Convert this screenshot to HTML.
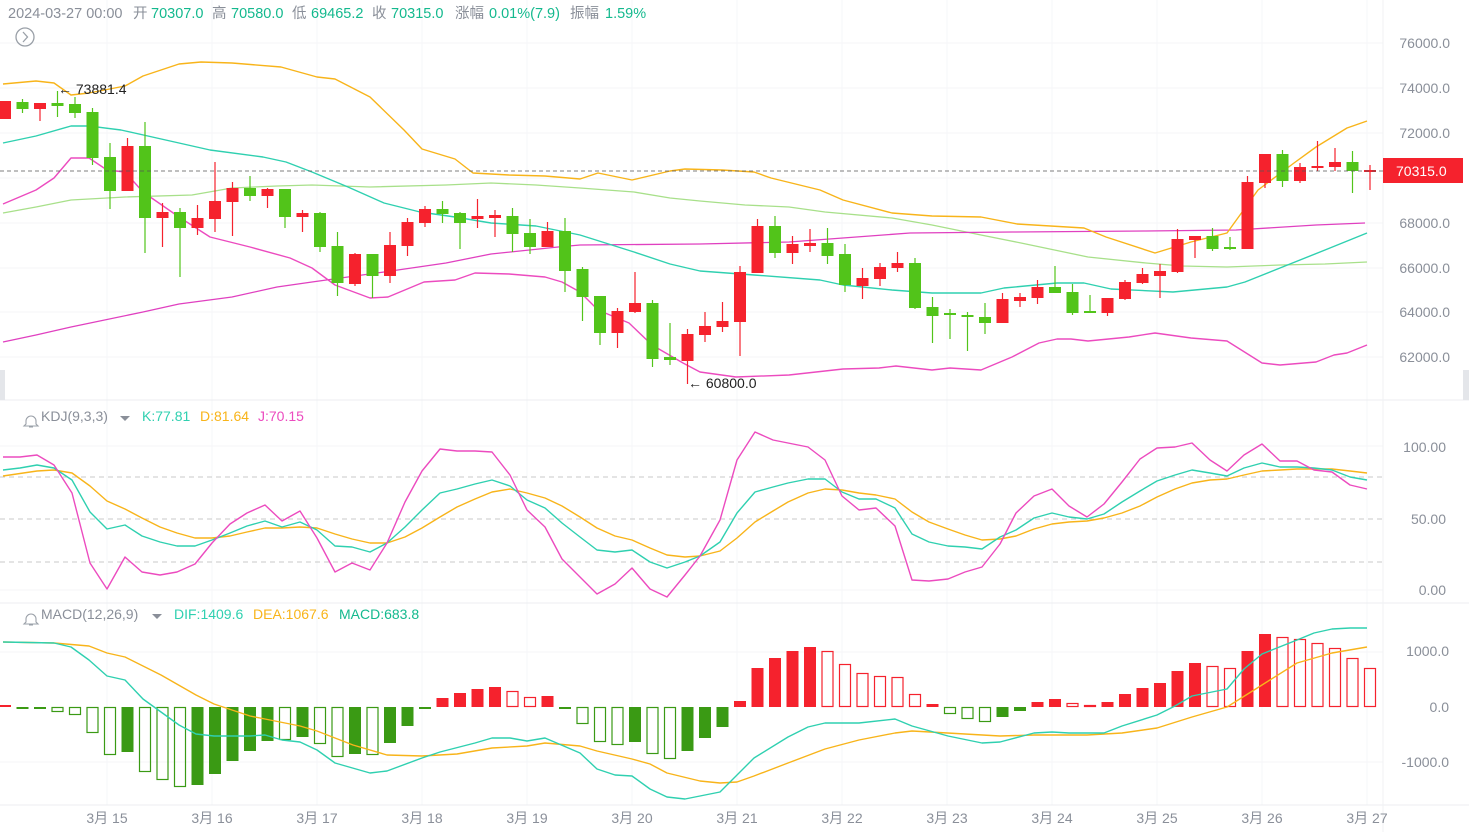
<!DOCTYPE html>
<html><head><meta charset="utf-8"><style>
html,body{margin:0;padding:0;background:#fff;width:1469px;height:832px;overflow:hidden}
svg{display:block}
text{font-family:"Liberation Sans","Noto Sans CJK SC",sans-serif}
</style></head><body>
<svg id="s" width="1469" height="832" xmlns="http://www.w3.org/2000/svg">
<rect width="1469" height="832" fill="#fff"/>
<g id="grid"></g>
<g id="plot"></g>
<g font-size="14.5">
<text x="8" y="18" fill="#8a8f99">2024-03-27 00:00</text>
<text x="133" y="18" fill="#8a8f99">开</text><text x="151" y="18" fill="#14b98e">70307.0</text>
<text x="212" y="18" fill="#8a8f99">高</text><text x="231" y="18" fill="#14b98e">70580.0</text>
<text x="292" y="18" fill="#8a8f99">低</text><text x="311" y="18" fill="#14b98e">69465.2</text>
<text x="372" y="18" fill="#8a8f99">收</text><text x="391" y="18" fill="#14b98e">70315.0</text>
<text x="455" y="18" fill="#8a8f99">涨幅</text><text x="489" y="18" fill="#14b98e">0.01%(7.9)</text>
<text x="570" y="18" fill="#8a8f99">振幅</text><text x="605" y="18" fill="#14b98e">1.59%</text>
</g>
<circle cx="25" cy="37" r="9" fill="none" stroke="#9aa0a8" stroke-width="1.3"/>
<path d="M23 32 L27.5 37 L23 42" fill="none" stroke="#9aa0a8" stroke-width="1.3"/>
<text x="58" y="94" font-size="14" fill="#222">← 73881.4</text>
<text x="688" y="388" font-size="14" fill="#222">← 60800.0</text>
<path d="M26 421 a5 5 0 0 1 10 0 v3 l2 2 h-14 l2 -2z M29 427 h4" fill="none" stroke="#9aa0a8" stroke-width="1.1"/>
<text x="41" y="421" font-size="14" fill="#8a8f99">KDJ(9,3,3)</text>
<path d="M120 416 l10 0 l-5 5z" fill="#8a8f99"/>
<text x="142" y="421" font-size="14" fill="#2fd0b0">K:77.81</text>
<text x="200" y="421" font-size="14" fill="#f8b41a">D:81.64</text>
<text x="258" y="421" font-size="14" fill="#ec4bbf">J:70.15</text>
<path d="M26 619 a5 5 0 0 1 10 0 v3 l2 2 h-14 l2 -2z M29 625 h4" fill="none" stroke="#9aa0a8" stroke-width="1.1"/>
<text x="41" y="619" font-size="14" fill="#8a8f99">MACD(12,26,9)</text>
<path d="M152 614 l10 0 l-5 5z" fill="#8a8f99"/>
<text x="174" y="619" font-size="14" fill="#2fd0b0">DIF:1409.6</text>
<text x="253" y="619" font-size="14" fill="#f8b41a">DEA:1067.6</text>
<text x="339" y="619" font-size="14" fill="#14b98e">MACD:683.8</text>
<g id="axis" font-size="14" fill="#8a8f99"></g>
<rect x="1383" y="158" width="80" height="25" fill="#f5222d"/>
<text x="1396" y="176" font-size="14" fill="#fff">70315.0</text>
<rect x="0" y="370" width="5" height="30" fill="#e4e6ea"/>
<rect x="1463" y="370" width="6" height="30" fill="#e4e6ea"/>
</svg>
<script>
var NS="http://www.w3.org/2000/svg";
function el(p,t,a){var e=document.createElementNS(NS,t);for(var k in a)e.setAttribute(k,a[k]);p.appendChild(e);return e;}
var G=document.getElementById('grid'),P=document.getElementById('plot'),A=document.getElementById('axis');
[43,88,133,178,223,268,312,357].forEach(function(y){el(G,'line',{x1:0,x2:1383,y1:y,y2:y,stroke:'#f4f5f7'});});
[446,590].forEach(function(y){el(G,'line',{x1:0,x2:1383,y1:y,y2:y,stroke:'#f4f5f7'});});
[652,762].forEach(function(y){el(G,'line',{x1:0,x2:1383,y1:y,y2:y,stroke:'#f4f5f7'});});
for(var d=0;d<13;d++){var x=107+d*105;el(G,'line',{x1:x,x2:x,y1:0,y2:805,stroke:'#f6f7f9'});}
el(G,'line',{x1:0,x2:1469,y1:400,y2:400,stroke:'#eceef1'});
el(G,'line',{x1:0,x2:1469,y1:603,y2:603,stroke:'#eceef1'});
el(G,'line',{x1:0,x2:1469,y1:805,y2:805,stroke:'#eceef1'});
el(G,'line',{x1:1383,x2:1383,y1:0,y2:832,stroke:'#f0f1f3'});
[477,519,562].forEach(function(y){el(G,'line',{x1:0,x2:1383,y1:y,y2:y,stroke:'#c8c8c8','stroke-dasharray':'5,4'});});
[['76000.0',48],['74000.0',93],['72000.0',138],['68000.0',228],['66000.0',273],['64000.0',317],['62000.0',362]].forEach(function(a){el(A,'text',{x:1450,y:a[1],'text-anchor':'end'}).textContent=a[0];});
[['100.00',452],['50.00',524],['0.00',595]].forEach(function(a){el(A,'text',{x:1446,y:a[1],'text-anchor':'end'}).textContent=a[0];});
[['1000.0',656],['0.0',712],['-1000.0',767]].forEach(function(a){el(A,'text',{x:1449,y:a[1],'text-anchor':'end'}).textContent=a[0];});
['3月 15','3月 16','3月 17','3月 18','3月 19','3月 20','3月 21','3月 22','3月 23','3月 24','3月 25','3月 26','3月 27'].forEach(function(t,i){el(A,'text',{x:107+i*105,y:823,'text-anchor':'middle'}).textContent=t;});
var C=[[1,101,119,101,119],[0,102,109,99,113],[1,103,109,103,121],[0,103,106,91,117],[0,104,113,97,118],[0,112,158,108,165],[0,157,191,143,209],[1,146,191,138,191],[0,146,218,122,253],[1,212,218,203,247],[0,212,228,208,277],[1,218,228,205,235],[1,201,219,162,232],[1,188,202,182,236],[0,188,196,176,201],[1,189,196,188,208],[0,189,217,189,228],[1,213,217,210,232],[0,213,247,212,252],[0,246,283,232,296],[1,254,284,253,286],[0,254,276,254,298],[1,245,276,232,283],[1,222,246,218,256],[1,209,223,206,227],[0,209,214,201,223],[0,213,223,212,249],[1,216,219,199,228],[1,215,218,210,237],[0,216,234,208,252],[0,233,247,219,254],[1,231,247,222,247],[0,231,271,218,292],[0,269,297,267,321],[0,296,333,296,345],[1,311,333,308,348],[1,303,312,272,313],[0,303,359,300,367],[0,357,360,323,365],[1,334,361,329,384],[1,326,335,312,342],[1,321,327,302,332],[1,272,322,266,356],[1,226,273,219,273],[0,226,253,216,258],[1,244,253,236,264],[1,243,246,229,252],[0,243,256,228,264],[0,254,285,244,292],[1,278,286,268,299],[1,267,279,263,286],[1,263,268,252,272],[0,263,308,258,309],[0,307,316,297,343],[0,313,315,309,339],[0,315,317,312,351],[0,317,323,303,334],[1,299,323,293,323],[1,297,301,293,307],[1,287,298,280,304],[0,287,293,266,293],[0,292,313,284,315],[0,311,313,295,313],[1,298,313,298,316],[1,282,299,280,300],[1,274,283,268,284],[1,271,276,264,298],[1,239,272,229,273],[1,236,240,236,258],[0,236,249,228,251],[0,247,249,237,250],[1,182,249,176,249],[1,154,183,154,188],[0,154,181,150,187],[1,167,181,163,183],[1,166,168,141,171],[1,162,167,148,171],[0,162,171,151,193],[1,170,171,165,190]];
var RED='#f5222d',GRN='#52c41a',DG='#3a9a14';
function cx(i){return 5+i*17.5;}
function line(pts,col,w){var d=pts.map(function(p,i){return (i?'L':'M')+p[0]+' '+p[1];}).join(' ');el(P,'path',{d:d,fill:'none',stroke:col,'stroke-width':w||1.4,'stroke-linejoin':'round'});}
line([[3,213],[36,207],[71,200],[125,197],[192,195],[232,188],[277,186],[312,185],[370,187],[446,185],[491,183],[536,185],[580,188],[634,192],[670,198],[700,201],[745,205],[789,207],[825,212],[892,218],[932,225],[981,235],[1021,243],[1088,257],[1146,263],[1182,266],[1227,267],[1280,265],[1325,264],[1367,262]],'#a8e08a',1.3);
line([[3,342],[36,335],[71,327],[143,312],[179,304],[232,297],[277,287],[312,282],[384,272],[446,263],[491,254],[558,247],[580,245],[700,244],[789,242],[910,233],[1012,232],[1146,231],[1236,230],[1316,225],[1365,223]],'#e040c0',1.3);
line([[3,84],[36,81],[54,83],[71,95],[89,93],[125,86],[143,76],[179,64],[201,62],[232,63],[281,67],[317,77],[335,79],[370,97],[404,130],[422,149],[455,159],[473,173],[509,175],[545,176],[580,179],[598,173],[632,180],[670,171],[685,169],[722,170],[754,172],[771,178],[820,190],[843,200],[892,213],[932,216],[981,217],[1017,224],[1084,228],[1106,237],[1155,253],[1191,242],[1227,233],[1240,215],[1258,190],[1294,163],[1316,147],[1347,128],[1367,121]],'#f8b41a',1.4);
line([[3,143],[36,136],[71,126],[89,126],[121,130],[179,143],[210,150],[263,157],[286,162],[312,172],[348,187],[384,203],[420,212],[455,217],[491,223],[536,226],[580,235],[634,252],[670,264],[700,271],[754,275],[820,280],[843,285],[892,290],[932,293],[981,293],[1004,288],[1057,283],[1084,283],[1111,289],[1173,292],[1227,287],[1245,282],[1280,268],[1325,250],[1367,233]],'#2fd0b0',1.4);
line([[3,204],[36,190],[54,178],[71,158],[89,158],[107,170],[125,172],[143,192],[179,217],[210,237],[250,247],[290,258],[312,268],[335,285],[370,298],[388,297],[424,282],[455,280],[475,273],[509,274],[545,277],[562,282],[580,292],[598,310],[629,323],[652,345],[683,363],[700,372],[736,377],[789,375],[843,369],[879,368],[896,366],[932,370],[950,368],[981,370],[1012,357],[1039,343],[1057,339],[1071,339],[1088,341],[1129,337],[1155,333],[1191,338],[1227,341],[1262,363],[1280,365],[1316,362],[1334,355],[1347,353],[1367,345]],'#ec4bbf',1.4);
C.forEach(function(c,i){var x=cx(i),col=c[0]?RED:GRN;
el(P,'line',{x1:x,x2:x,y1:c[3],y2:c[4],stroke:col,'stroke-width':1.2});
var h=Math.max(c[2]-c[1],2);el(P,'rect',{x:x-6,y:c[1],width:12,height:h,fill:col});});
line([[3,476],[37,471],[54,470],[72,473],[90,486],[107,501],[125,509],[142,518],[160,527],[177,533],[195,538],[212,538],[230,536],[247,532],[265,528],[282,528],[300,527],[317,528],[335,534],[352,539],[370,543],[387,543],[405,537],[422,528],[440,517],[457,507],[475,499],[492,492],[510,489],[527,493],[545,498],[562,506],[580,517],[597,528],[615,536],[632,540],[650,548],[667,555],[685,557],[700,556],[720,551],[737,538],[755,522],[773,511],[788,502],[808,493],[825,489],[842,490],[859,493],[876,495],[895,499],[912,512],[929,522],[948,529],[965,535],[982,540],[1000,539],[1016,536],[1034,529],[1052,524],[1069,522],[1087,521],[1104,518],[1122,513],[1140,506],[1157,497],[1175,489],[1192,483],[1210,480],[1227,479],[1244,475],[1262,471],[1280,470],[1297,469],[1332,469],[1350,471],[1367,473]],'#f8b41a',1.4);
line([[3,470],[20,468],[37,465],[54,468],[72,480],[90,512],[107,529],[125,525],[142,536],[160,542],[177,546],[195,546],[212,540],[230,533],[247,526],[265,521],[282,527],[300,522],[317,530],[335,546],[352,547],[370,552],[387,543],[405,527],[422,510],[440,493],[457,489],[475,484],[492,480],[510,486],[527,500],[545,508],[562,523],[580,537],[597,550],[615,552],[632,550],[650,562],[667,568],[685,562],[700,556],[720,542],[737,513],[755,492],[773,487],[788,483],[808,479],[825,479],[842,492],[859,499],[876,499],[895,508],[912,534],[929,542],[948,546],[965,547],[982,549],[1000,537],[1016,530],[1034,518],[1052,513],[1069,517],[1087,519],[1104,514],[1122,502],[1140,491],[1157,481],[1175,475],[1192,470],[1210,473],[1227,476],[1244,468],[1262,463],[1280,467],[1297,467],[1314,468],[1332,470],[1350,477],[1367,480]],'#2fd0b0',1.4);
line([[3,457],[20,457],[37,455],[54,465],[72,493],[90,563],[107,589],[125,557],[142,572],[160,575],[177,572],[195,564],[212,543],[230,524],[247,513],[265,505],[282,521],[300,511],[317,538],[335,572],[352,563],[370,570],[387,543],[405,502],[422,471],[440,449],[457,451],[475,451],[492,452],[510,475],[527,510],[545,527],[562,559],[580,577],[597,594],[615,584],[632,568],[650,589],[667,597],[685,575],[700,556],[720,520],[737,460],[755,432],[773,440],[788,443],[808,447],[825,460],[842,496],[859,510],[876,508],[895,526],[912,580],[929,581],[948,579],[965,572],[982,567],[1000,544],[1016,513],[1034,496],[1052,489],[1069,506],[1087,517],[1104,504],[1122,482],[1140,459],[1157,448],[1175,447],[1192,443],[1210,460],[1227,471],[1244,455],[1262,444],[1280,461],[1297,461],[1314,470],[1332,472],[1350,485],[1367,489]],'#ec4bbf',1.4);
var H=[[705,1],[709,1],[709,1],[712,0],[715,0],[733,0],[755,0],[752,1],[772,0],[780,0],[787,0],[785,1],[774,1],[761,1],[751,1],[741,1],[740,0],[737,1],[744,0],[757,0],[754,1],[755,0],[743,1],[726,1],[709,1],[698,1],[693,1],[689,1],[687,1],[691,0],[697,0],[696,1],[709,1],[724,0],[742,0],[745,0],[742,1],[754,0],[759,0],[751,1],[738,1],[727,1],[701,1],[668,1],[658,1],[651,1],[647,1],[651,0],[664,0],[673,0],[676,0],[677,0],[694,0],[704,1],[714,0],[719,0],[722,0],[717,1],[711,1],[702,1],[699,1],[703,0],[705,0],[702,1],[694,1],[688,1],[683,1],[671,1],[663,1],[666,0],[668,0],[651,1],[634,1],[637,0],[639,0],[643,0],[648,0],[658,0],[668,0]];
H.forEach(function(h,i){var x=cx(i),y=h[0],z=707,pos=y<z;var col=pos?RED:DG;
var top=Math.min(y,z),ht=Math.max(Math.abs(y-z),2);
if(h[1])el(P,'rect',{x:x-6,y:top,width:12,height:ht,fill:col});
else el(P,'rect',{x:x-5.5,y:top+0.5,width:11,height:Math.max(ht-1,1),fill:'none',stroke:col,'stroke-width':1.2});});
line([[3,642],[54,643],[89,646],[107,653],[125,657],[161,675],[196,695],[214,704],[250,716],[265,719],[300,726],[317,731],[353,745],[387,755],[422,756],[457,754],[492,748],[527,746],[545,743],[580,746],[597,751],[632,759],[650,764],[667,773],[700,781],[720,783],[737,782],[754,776],[788,763],[825,749],[859,740],[895,733],[912,731],[930,732],[965,734],[1000,736],[1034,735],[1087,735],[1122,733],[1157,728],[1192,717],[1227,707],[1262,685],[1297,663],[1332,653],[1367,647]],'#f8b41a',1.4);
line([[3,642],[54,643],[71,647],[89,660],[107,676],[125,680],[143,699],[179,725],[196,734],[214,736],[250,736],[265,735],[282,740],[300,742],[317,750],[335,763],[370,773],[387,771],[422,758],[440,752],[475,743],[492,738],[510,738],[527,741],[545,738],[580,753],[597,769],[615,775],[632,776],[650,789],[667,797],[685,799],[700,796],[720,792],[754,758],[788,737],[808,727],[825,723],[859,723],[895,719],[912,726],[948,736],[982,743],[1000,742],[1034,733],[1052,732],[1069,733],[1104,733],[1122,726],[1157,715],[1175,706],[1192,696],[1227,689],[1244,669],[1262,654],[1297,640],[1314,633],[1332,629],[1350,628],[1367,628]],'#2fd0b0',1.4);
el(P,'line',{x1:0,x2:1383,y1:171,y2:171,stroke:'#555','stroke-dasharray':'4,3','stroke-width':0.8});
</script>
</body></html>
